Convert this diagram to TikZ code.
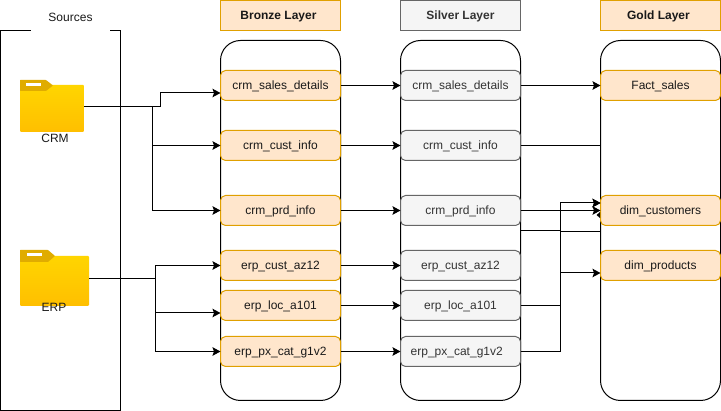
\documentclass[tikz,border=0pt]{standalone}
\usepackage{fontspec}
\setmainfont{Liberation Sans}
\usetikzlibrary{arrows.meta}
\definecolor{bronzefill}{HTML}{FFE6CC}
\definecolor{bronzeline}{HTML}{E0A000}
\definecolor{silverfill}{HTML}{F5F5F5}
\definecolor{silverline}{HTML}{666666}
\definecolor{silvertext}{HTML}{333333}
\definecolor{foldertop}{HTML}{FFD500}
\definecolor{folderbot}{HTML}{FFBF00}
\definecolor{foldertab}{HTML}{E0AC00}
\tikzset{
  basebox/.style={outer sep=0pt,inner sep=0pt,line width=1pt,minimum width=120pt,minimum height=30pt,text height=9pt,text depth=1pt,font=\fontsize{12}{14}\selectfont,align=center},
  bronzebox/.style={basebox,draw=bronzeline,fill=bronzefill,rounded corners=5pt,text=black!90},
  silverbox/.style={basebox,draw=silverline,fill=silverfill,rounded corners=5pt,text=silvertext},
  bronzehead/.style={basebox,draw=bronzeline,fill=bronzefill,font=\fontsize{12}{14}\selectfont\bfseries,text=black!90},
  silverhead/.style={basebox,draw=silverline,fill=silverfill,font=\fontsize{12}{14}\selectfont\bfseries,text=silvertext},
  container/.style={draw=black,line width=1pt,rounded corners=20pt,fill=white},
  conn/.style={draw=black,line width=1pt},
  arr/.style={conn,-{Stealth[length=8pt,width=8.5pt,inset=1.5pt]}},
  folderbody/.style={outer sep=0pt,inner sep=0pt,rounded corners=1pt,top color=foldertop,bottom color=folderbot},
  plainlabel/.style={inner sep=0pt,outer sep=0pt,font=\fontsize{12}{14}\selectfont,text=black!90},
}
\begin{document}
\begin{tikzpicture}[x=1pt,y=-1pt]
\useasboundingbox (0,0) rectangle (721,411);
\fill[white] (0,0) rectangle (721,411);

% containers
\draw[draw=black,line width=1pt] (0.5,30.5) rectangle (120.5,410.5);
\node[plainlabel,fill=white,minimum width=79pt,minimum height=29pt,text height=9pt,text depth=1pt] (src) at (70.5,17.5) {Sources};
\path[container] (220.5,40.5) rectangle (340.5,400.5);
\path[container] (400.5,40.5) rectangle (520.5,400.5);
\path[container] (600.5,40.5) rectangle (720.5,400.5);

% headers
\node[bronzehead] (hb) at (280.5,15.5) {Bronze Layer\hspace*{4pt}};
\node[silverhead] (hs) at (460.5,15.5) {Silver Layer};
\node[bronzehead] (hg) at (660.5,15.5) {Gold Layer\hspace*{4pt}};

% folders
\node[folderbody,minimum width=64pt,minimum height=47pt] (crm) at (52,108.5) {};
\fill[foldertab,rounded corners=0.5pt] (20,91) -- (20,80) -- (46,80) -- (53,85.5) -- (46,91) -- cycle;
\fill[white] (26,83) rectangle (41,86);
\node[plainlabel] (crml) at (55,138) {CRM};
\node[folderbody,minimum width=69pt,minimum height=50pt] (erp) at (54.5,281) {};
\fill[foldertab,rounded corners=0.5pt] (20,262) -- (20,250) -- (48,250) -- (55,256) -- (48,262) -- cycle;
\fill[white] (26.5,253) rectangle (42,256);
\node[plainlabel] (erpl) at (54,307) {ERP};

% bronze
\node[bronzebox] (b1) at (280.5,85.5) {crm\_sales\_details};
\node[bronzebox] (b2) at (280.5,145.5) {crm\_cust\_info};
\node[bronzebox] (b3) at (280.5,210.5) {crm\_prd\_info};
\node[bronzebox] (b4) at (280.5,265.5) {erp\_cust\_az12};
\node[bronzebox] (b5) at (280.5,305.5) {erp\_loc\_a101};
\node[bronzebox] (b6) at (280.5,351.5) {erp\_px\_cat\_g1v2};
% silver
\node[silverbox] (s1) at (460.5,85.5) {crm\_sales\_details};
\node[silverbox] (s2) at (460.5,145.5) {crm\_cust\_info};
\node[silverbox] (s3) at (460.5,210.5) {crm\_prd\_info};
\node[silverbox] (s4) at (460.5,265.5) {erp\_cust\_az12};
\node[silverbox] (s5) at (460.5,305.5) {erp\_loc\_a101};
\node[silverbox] (s6) at (460.5,351.5) {erp\_px\_cat\_g1v2\hspace*{7.5pt}};
% gold
\node[bronzebox] (g1) at (660.5,85.5) {Fact\_sales};
\node[bronzebox] (g2) at (660.5,210.5) {dim\_customers};
\node[bronzebox] (g3) at (660.5,265.5) {dim\_products};

% free ends
\coordinate (crmout) at (crm.east |- 0,106.5);
\coordinate (erpout) at (erp.east |- 0,278.5);
\coordinate (b1in) at (220.5,93);
\coordinate (g2a) at (600.5,203);
\coordinate (g3a) at (600.5,273);
\coordinate (gcross) at (600.5,145.5);
\coordinate (s3low) at (520.5,230.5);

% CRM connectors
\draw[arr] (crmout) -- (160.5,106.5) -- (160.5,93) -- (b1in);
\draw[arr] (crmout) -- (152.5,106.5) -- (152.5,145.5) -- (b2.west);
\draw[arr] (crmout) -- (152.5,106.5) -- (152.5,210.5) -- (b3.west);
% ERP connectors
\draw[arr] (erpout) -- (155,278.5) -- (155,265.5) -- (b4.west);
\draw[arr] (erpout) -- (155,278.5) -- (155,313) -- (220.5,313);
\draw[arr] (erpout) -- (155,278.5) -- (155,351.5) -- (b6.west);
% bronze to silver
\draw[arr] (b1) -- (s1);
\draw[arr] (b2) -- (s2);
\draw[arr] (b3) -- (s3);
\draw[arr] (b4) -- (s4);
\draw[arr] (b5) -- (s5);
\draw[arr] (b6) -- (s6);
% silver to gold
\draw[arr] (s1) -- (g1);
\draw[conn] (s2.east) -- (gcross);
\draw[arr] (s3.east) -- (g2.west);
\draw[arr] (s5.east) -- (560.5,305.5) -- (560.5,203) -- (g2a);
\draw[arr] (s6.east) -- (560.5,351.5) -- (560.5,203) -- (g2a);
\draw[arr] (s6.east) -- (560.5,351.5) -- (560.5,273) -- (g3a);
\draw[conn] (s3low) -- (560.5,230.5) -- (560.5,231.5) -- (600.5,231.5);
% arrowhead fragment at the foot of dim_customers' left edge
\fill[black] (600,218) -- (596.5,215) -- (600,212) -- cycle;
\end{tikzpicture}
\end{document}
